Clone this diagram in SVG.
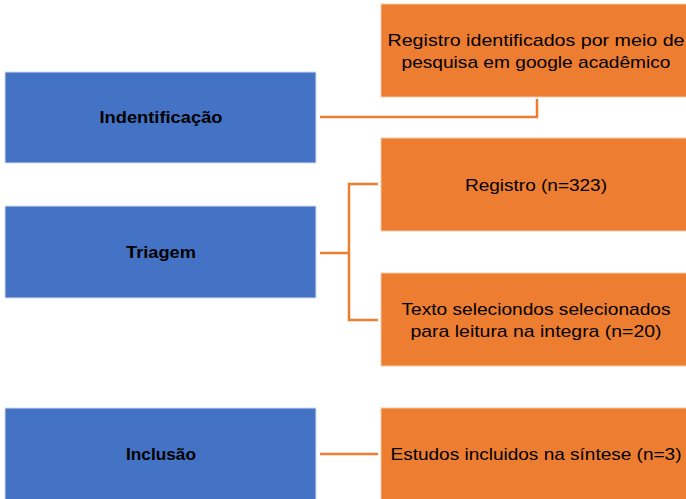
<svg xmlns="http://www.w3.org/2000/svg" width="686" height="499" viewBox="0 0 686 499">
<style>
.blue{fill:#4472C4;stroke:#D6DCE8;stroke-width:1}
.orange{fill:#ED7D31;stroke:#F6C9A8;stroke-width:1}
.t{font-family:"Liberation Sans",Arial,sans-serif;font-size:17px;fill:#000;text-anchor:middle}
.b{font-weight:bold;font-size:16.5px}
.conn{fill:none;stroke:#ED7D31;stroke-width:2.5}
</style>
<rect width="686" height="499" fill="#fff"/>
<g id="node-identificacao">
<rect class="blue" x="5" y="72" width="311" height="91"/>
<text class="t b" x="161" y="123" textLength="123" lengthAdjust="spacingAndGlyphs">Indentificação</text>
</g>
<g id="node-triagem">
<rect class="blue" x="5" y="206" width="311" height="92"/>
<text class="t b" x="161" y="258" textLength="70" lengthAdjust="spacingAndGlyphs">Triagem</text>
</g>
<g id="node-inclusao">
<rect class="blue" x="5" y="408" width="311" height="92"/>
<text class="t b" x="161" y="460" textLength="70" lengthAdjust="spacingAndGlyphs">Inclusão</text>
</g>
<g id="node-registro-identificados">
<rect class="orange" x="381" y="4" width="306" height="93"/>
<text class="t" x="536" y="46" textLength="297" lengthAdjust="spacingAndGlyphs">Registro identificados por meio de</text>
<text class="t" x="536" y="68" textLength="269" lengthAdjust="spacingAndGlyphs">pesquisa em google acadêmico</text>
</g>
<g id="node-registro">
<rect class="orange" x="381" y="138" width="306" height="93"/>
<text class="t" x="536" y="191" textLength="142" lengthAdjust="spacingAndGlyphs">Registro (n=323)</text>
</g>
<g id="node-texto">
<rect class="orange" x="381" y="273" width="306" height="93"/>
<text class="t" x="536" y="315" textLength="269" lengthAdjust="spacingAndGlyphs">Texto seleciondos selecionados</text>
<text class="t" x="536" y="337" textLength="251" lengthAdjust="spacingAndGlyphs">para leitura na integra (n=20)</text>
</g>
<g id="node-estudos">
<rect class="orange" x="381" y="408" width="306" height="92"/>
<text class="t" x="536" y="460" textLength="291" lengthAdjust="spacingAndGlyphs">Estudos incluidos na síntese (n=3)</text>
</g>
<g id="connectors">
<polyline class="conn" points="320,117 537,117 537,99"/>
<polyline class="conn" points="320,253 349,253"/>
<polyline class="conn" points="378,184 349,184 349,320 378,320"/>
<polyline class="conn" points="320,454 378,454"/>
</g>
</svg>
